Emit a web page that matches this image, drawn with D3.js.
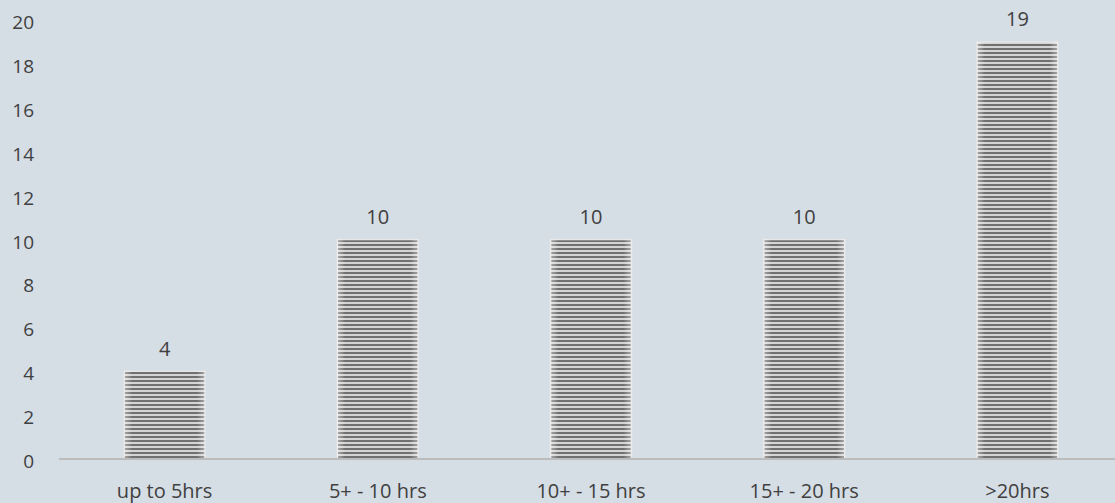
<!DOCTYPE html>
<html><head><meta charset="utf-8">
<script src="https://cdn.jsdelivr.net/npm/d3@7"></script>
<style>
html,body{margin:0;padding:0;background:#d5dde5;}
text{font-family:"Open Sans",sans-serif;fill:#404040;}
</style></head>
<body>
<svg id="chart" width="1115" height="503"></svg>
<script>
const categories = ["up to 5hrs","5+ - 10 hrs","10+ - 15 hrs","15+ - 20 hrs",">20hrs"];
const values = [4,10,10,10,19];
const yTicks = [0,2,4,6,8,10,12,14,16,18,20];

const svg = d3.select("#chart");
const W = 1115, H = 503;
svg.append("rect").attr("width",W).attr("height",H).attr("fill","#d5dde5");

const defs = svg.append("defs");
const pat = defs.append("pattern").attr("id","stripes").attr("patternUnits","userSpaceOnUse")
  .attr("width",8).attr("height",4);
pat.append("rect").attr("width",8).attr("height",4).attr("fill","#d4d4d4");
pat.append("rect").attr("width",8).attr("height",2).attr("fill","#707070");
const grad = defs.append("linearGradient").attr("id","shade").attr("x1","0").attr("x2","1").attr("y1","0").attr("y2","0");
grad.append("stop").attr("offset","0").attr("stop-color","#ffffff").attr("stop-opacity",0.4);
grad.append("stop").attr("offset","0.1").attr("stop-color","#ffffff").attr("stop-opacity",0);
grad.append("stop").attr("offset","0.9").attr("stop-color","#ffffff").attr("stop-opacity",0);
grad.append("stop").attr("offset","1").attr("stop-color","#ffffff").attr("stop-opacity",0.4);

const x = d3.scaleBand().domain(categories).range([58,1124]).paddingInner(0.62).paddingOuter(0.31);
const y = d3.scaleLinear().domain([0,20]).range([459,20]);

// y labels
svg.append("g").selectAll("text").data(yTicks).join("text")
  .attr("x",34).attr("y",d=>y(d)+2).attr("text-anchor","end").attr("dominant-baseline","central")
  .attr("font-size",19).text(d=>d);

// bars
const bars = svg.append("g").selectAll("g").data(values).join("g");
bars.append("rect")
  .attr("x",(d,i)=>x(categories[i])).attr("y",d=>y(d))
  .attr("width",x.bandwidth()).attr("height",d=>y(0)-y(d))
  .attr("fill","url(#stripes)").attr("stroke","#e6e6e6").attr("stroke-width",1.5);
bars.append("rect")
  .attr("x",(d,i)=>x(categories[i])).attr("y",d=>y(d))
  .attr("width",x.bandwidth()).attr("height",d=>y(0)-y(d))
  .attr("fill","url(#shade)");

// value labels
svg.append("g").selectAll("text").data(values).join("text")
  .attr("x",(d,i)=>x(categories[i])+x.bandwidth()/2).attr("y",d=>y(d)-23)
  .attr("text-anchor","middle").attr("dominant-baseline","central")
  .attr("font-size",20).text(d=>d);

// axis line
svg.append("line").attr("x1",59).attr("x2",W).attr("y1",y(0)).attr("y2",y(0))
  .attr("stroke","#bcbcbc").attr("stroke-width",2);

// x labels
svg.append("g").selectAll("text").data(categories).join("text")
  .attr("x",d=>x(d)+x.bandwidth()/2).attr("y",490)
  .attr("text-anchor","middle").attr("dominant-baseline","central")
  .attr("font-size",20).text(d=>d);
</script>
</body></html>
